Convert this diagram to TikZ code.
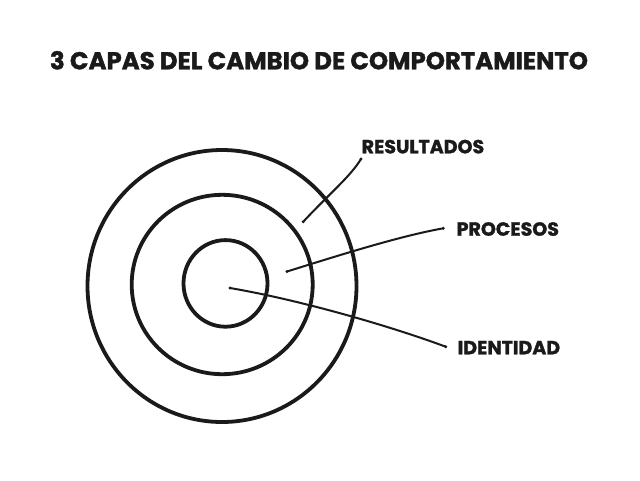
\documentclass[tikz,border=0pt]{standalone}
\usepackage{fontspec}
\setmainfont{Poppins}[BoldFeatures={FakeBold=1.4}]
\definecolor{ink}{HTML}{1A1A1A}
\begin{document}
\begin{tikzpicture}[x=1pt,y=-1pt,
  ring/.style={draw=ink,line width=3.8pt},
  leader/.style={draw=ink,line width=2pt,line cap=round},
  enddot/.style={fill=ink,draw=none},
  label/.style={anchor=base west,inner sep=0pt,text=ink,font=\fontsize{19}{22}\selectfont\bfseries},
  titletext/.style={anchor=base,inner sep=0pt,text=ink,font=\fontsize{24.4}{28}\selectfont\bfseries}]
\useasboundingbox[fill=white] (0,0) rectangle (640,480);
\node[titletext] (title) at (319,69.3) {3 CAPAS DEL CAMBIO DE COMPORTAMIENTO};
% rings
\draw[ring] (222,286) ellipse [x radius=134.5,y radius=136];
\draw[ring] (222.2,284.5) ellipse [x radius=90.5,y radius=89.7];
\draw[ring] (225.5,283.4) ellipse [x radius=42,y radius=43.3];
% labels
\node[label] (res) at (361.5,153.3) {RESULTADOS};
\node[label] (pro) at (456.5,235.7) {PROCESOS};
\node[label] (ide) at (457.5,354.3) {IDENTIDAD};
% leader end points
\coordinate (r0) at (303.3,221.7);
\coordinate (r1) at (361,159);
\coordinate (p0) at (287,271.5);
\coordinate (p1) at (443.3,228.3);
\coordinate (i0) at (230,288);
\coordinate (i1) at (445.7,346.7);
\draw[leader] (r0) .. controls (328,195) and (350,177) .. (r1);
\draw[leader] (p0) .. controls (340,255) and (400,236) .. (p1);
\draw[leader] (i0) .. controls (300,300) and (390,326) .. (i1);
\foreach \c in {r0,r1,p0,p1,i0,i1} \fill[enddot] (\c) circle (1.6);
\end{tikzpicture}
\end{document}
